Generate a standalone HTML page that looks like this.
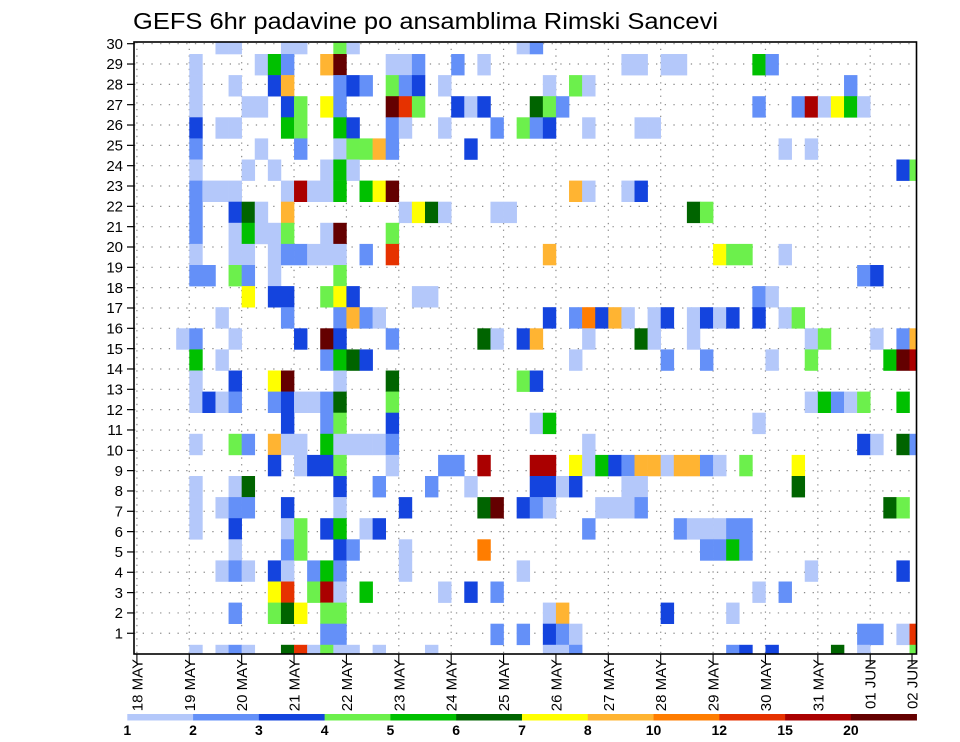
<!DOCTYPE html>
<html>
<head>
<meta charset="utf-8">
<style>
  html,body{margin:0;padding:0;background:#fff;}
  svg{display:block;font-family:"Liberation Sans",sans-serif;}
</style>
</head>
<body>
<svg id="chart" width="960" height="742" viewBox="0 0 960 742">
  <text x="133" y="29" font-size="23" textLength="585" lengthAdjust="spacingAndGlyphs" fill="#000">GEFS 6hr padavine po ansamblima Rimski Sancevi</text>
  <defs><clipPath id="plotclip"><rect x="134" y="42" width="782.5" height="612"/></clipPath></defs>
  <g id="grid"></g>
  <g id="cells" clip-path="url(#plotclip)"></g>
  <g id="axes"></g>
  <g id="legend"></g>
</svg>
<script>
// ---- data ----
const dayLabels = ["18 MAY","19 MAY","20 MAY","21 MAY","22 MAY","23 MAY","24 MAY","25 MAY","26 MAY","27 MAY","28 MAY","29 MAY","30 MAY","31 MAY","01 JUN","02 JUN"];
const yTicks = [1,2,3,4,5,6,7,8,9,10,11,12,13,14,15,16,17,18,19,20,21,22,23,24,25,26,27,28,29,30];
const levelLabels = ["1","2","3","4","5","6","7","8","10","12","15","20"];
const levelColors = ["#b4c8fa","#6490f8","#1444de","#6cf04c","#00c000","#006400","#ffff00","#ffb432","#ff7d00","#e63200","#aa0000","#640000"];
// code -> level index: 1..9 = levels 1..8,10 ; a=12, b=15, c=20
const codes = "123456789abc";
// one entry per ensemble row (top to bottom); "column:code" with column = 6-hour step from 18 MAY 00
const cellRows = [
 "6:1 7:1 11:1 12:1 15:4 16:1 29:1 30:2",
 "4:1 9:1 10:5 11:2 14:8 15:c 19:1 20:1 21:2 24:2 26:1 37:1 38:1 40:1 41:1 47:5 48:2",
 "4:1 7:1 10:3 11:8 15:2 16:3 17:2 19:4 20:2 21:3 23:1 31:1 33:4 34:1 54:2",
 "4:1 8:1 9:1 11:3 12:4 14:7 15:2 19:c 20:a 21:4 24:3 25:1 26:3 30:6 31:4 32:2 47:2 50:2 51:b 52:1 53:7 54:5 55:1",
 "4:3 6:1 7:1 11:5 12:4 15:5 16:3 19:2 20:1 23:1 27:2 29:4 30:2 31:3 34:1 38:1 39:1",
 "4:2 9:1 12:2 15:1 16:4 17:4 18:8 19:2 25:3 49:1 51:1",
 "4:1 8:1 10:1 14:1 15:5 16:1 58:3 59:4",
 "4:2 5:1 6:1 7:1 11:1 12:b 13:1 14:1 15:5 17:5 18:7 19:c 33:8 34:1 37:1 38:3",
 "4:2 7:3 8:6 9:1 11:8 20:1 21:7 22:6 23:1 27:1 28:1 42:6 43:4",
 "4:2 7:1 8:5 9:1 10:1 11:4 14:1 15:c 19:4",
 "4:1 7:1 8:1 10:1 11:2 12:2 13:1 14:1 15:1 17:2 19:a 31:8 44:7 45:4 46:4 49:1",
 "4:2 5:2 7:4 8:2 10:1 15:4 55:2 56:3",
 "8:7 10:3 11:3 14:4 15:7 16:3 21:1 22:1 47:2 48:1",
 "6:1 11:2 15:2 16:8 17:2 18:1 31:3 33:2 34:9 35:3 36:8 37:1 39:1 40:3 42:1 43:3 44:1 45:3 47:3 49:1 50:4",
 "3:1 4:2 7:1 12:3 14:c 15:3 19:2 26:6 27:1 29:3 30:8 34:1 38:6 39:1 42:1 51:1 52:4 56:1 58:2 59:8",
 "4:5 6:1 14:2 15:5 16:6 17:3 33:1 40:2 43:2 48:1 51:4 57:5 58:c 59:b",
 "4:1 7:3 10:7 11:c 15:1 19:6 29:4 30:3",
 "4:1 5:3 6:1 7:2 10:2 11:3 12:1 13:1 14:2 15:6 19:4 51:1 52:5 53:2 54:1 55:4 58:5",
 "11:3 14:2 15:4 19:3 30:1 31:5 47:1",
 "4:1 7:4 8:2 10:8 11:1 12:1 14:5 15:1 16:1 17:1 18:1 19:2 34:1 55:3 56:1 58:6 59:2",
 "10:3 12:1 13:3 14:3 15:4 19:1 23:2 24:2 26:b 30:b 31:b 33:7 34:1 35:5 36:3 37:2 38:8 39:8 40:1 41:8 42:8 43:2 44:1 46:4 50:7",
 "4:1 7:1 8:6 15:3 18:2 22:2 25:1 30:3 31:3 32:1 33:3 37:1 38:1 50:6",
 "4:1 6:1 7:2 8:2 11:3 15:1 20:3 26:6 27:c 29:3 30:2 31:1 35:1 36:1 37:1 38:2 57:6 58:4",
 "4:1 7:3 11:1 12:4 14:3 15:5 17:1 18:3 34:2 41:2 42:1 43:1 44:1 45:2 46:2",
 "7:1 11:2 12:4 15:3 16:2 20:1 26:9 43:2 44:2 45:5 46:2",
 "6:1 7:2 8:1 10:3 11:1 13:2 14:5 15:2 20:1 29:1 51:1 58:3",
 "10:7 11:a 13:4 14:b 15:1 17:5 23:1 25:3 27:2 47:1 49:2",
 "7:2 10:4 11:6 12:7 14:4 15:4 31:1 32:8 40:3 45:1",
 "14:2 15:2 27:2 29:2 31:3 32:2 33:1 55:2 56:2 58:1 59:a",
 "4:1 6:1 7:2 8:1 11:6 12:a 13:1 14:4 15:1 16:1 18:1 22:1 31:1 32:1 33:2 45:2 46:3 48:3 53:6 55:1 59:4"
];

// ---- scales ----
const NS = "http://www.w3.org/2000/svg";
const plot = {left:134, right:916.5, top:42, bottom:654};
const x0 = 136.9, pxPerDay = 52.38;
function xDay(d){ return x0 + d*pxPerDay; }
function xStep(c){ return xDay(c/4); }
function yTick(k){ return 653.6 - k*20.33; }
const cellH = 21.1;
function yCellTop(i){ return 54 + (i-1)*cellH; }

function mk(tag, attrs, parent){
  const e = document.createElementNS(NS, tag);
  for (const k in attrs) e.setAttribute(k, attrs[k]);
  parent.appendChild(e);
  return e;
}
const grid = document.getElementById('grid');
const cellsG = document.getElementById('cells');
const axes = document.getElementById('axes');
const legend = document.getElementById('legend');

yTicks.forEach(k=>{
  const l = mk('line',{x1:plot.left,x2:plot.right,y1:yTick(k),y2:yTick(k),stroke:'#8a8a8a','stroke-width':1.2,'stroke-dasharray':'1.3 7.4'},grid);
  
  
});
dayLabels.forEach((d,i)=>{
  const x = xDay(i);
  if (x < plot.left || x > plot.right) return;
  const l = mk('line',{x1:x,x2:x,y1:plot.top,y2:plot.bottom,stroke:'#8a8a8a','stroke-width':1.2,'stroke-dasharray':'1.3 5.4'},grid);
  
  
});

cellRows.forEach((row,i)=>{
  row.split(' ').forEach(tok=>{
    if(!tok) return;
    const parts = tok.split(':');
    const c = parseInt(parts[0],10);
    const lvl = codes.indexOf(parts[1]);
    const x = xStep(c), w = xStep(c+1)-x;
    const r = mk('rect',{x:x,y:yCellTop(i),width:w+0.3,height:cellH+0.3,fill:levelColors[lvl]},cellsG);
    
    
  });
});

const frame = mk('rect',{x:plot.left,y:plot.top,width:plot.right-plot.left,height:plot.bottom-plot.top,fill:'none',stroke:'#000','stroke-width':1.6},axes);



yTicks.forEach(k=>{
  const y = yTick(k);
  const t = mk('line',{x1:127,x2:plot.left,y1:y,y2:y,stroke:'#000','stroke-width':1.2},axes);
  
  
  const tx = mk('text',{x:123,y:y+5.2,'font-size':15,'text-anchor':'end',fill:'#000'},axes);
  tx.textContent = String(k);
  
  
});

dayLabels.forEach((d,i)=>{
  const x = Math.min(xDay(i), 912);
  const tl = mk('line',{x1:x,x2:x,y1:plot.bottom,y2:plot.bottom+10,stroke:'#000','stroke-width':1.1},axes);
  
  
  const tx = mk('text',{transform:`translate(${x+5.5},659) rotate(-90)`,'font-size':15,'text-anchor':'end',fill:'#000'},axes);
  tx.textContent = d;
  
  
});

const lx0 = 127.3, lw = 65.78;
levelColors.forEach((col,k)=>{
  const r = mk('rect',{x:lx0+k*lw,y:714,width:lw+0.3,height:6.5,fill:col},legend);
  
  
});
levelLabels.forEach((lab,k)=>{
  const t = mk('text',{x:lx0+k*lw,y:735,'font-size':14,'font-weight':'bold','text-anchor':'middle',fill:'#000'},legend);
  t.textContent = lab;
  
  
});
</script>
</body>
</html>
